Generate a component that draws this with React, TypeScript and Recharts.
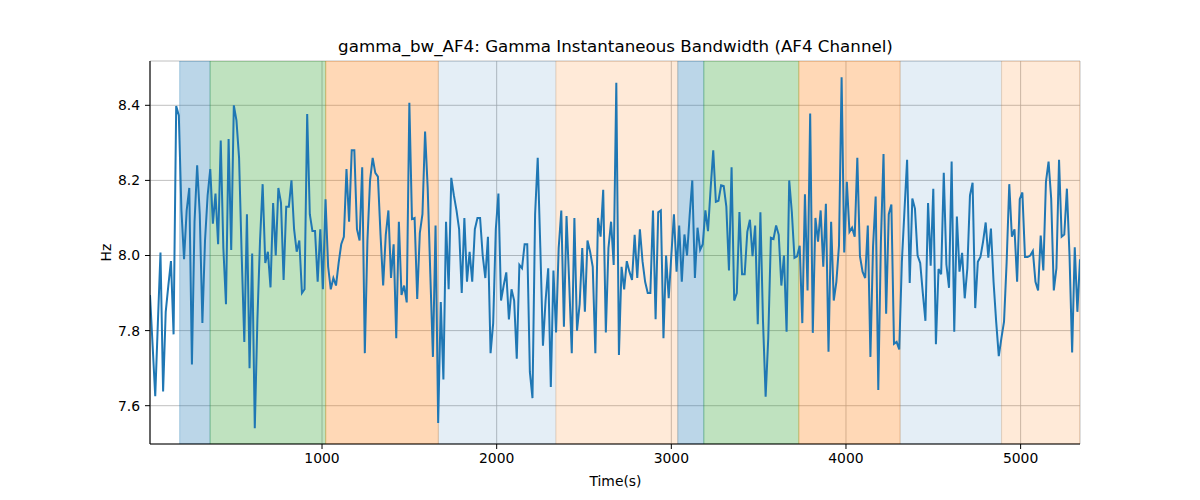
import { ComposedChart, Line, XAxis, YAxis, CartesianGrid, ReferenceArea } from "recharts";

// gamma instantaneous bandwidth, AF4 channel (Hz), one value per 15 s window
const bandwidth = [
  7.895, 7.76, 7.625, 7.82, 8.008, 7.638, 7.85, 7.92, 7.985, 7.79,
  8.398, 8.373, 8.12, 7.99, 8.12, 8.18, 7.71, 8.09, 8.24, 8.11,
  7.82, 8.04, 8.16, 8.23, 8.085, 8.165, 8.03, 8.306, 8.02, 7.87,
  8.31, 8.015, 8.4, 8.36, 8.26, 8.0, 7.77, 8.11, 7.7, 8.005,
  7.54, 7.83, 8.04, 8.19, 7.98, 8.01, 7.915, 8.14, 8.0, 8.18,
  8.14, 7.935, 8.13, 8.13, 8.2, 8.07, 8.01, 8.04, 7.9, 7.91,
  8.377, 8.11, 8.065, 8.065, 7.93, 8.07, 7.91, 8.15, 7.97, 7.91,
  7.94, 7.92, 7.98, 8.03, 8.05, 8.23, 8.09, 8.28, 8.28, 8.07,
  8.04, 8.235, 7.74, 8.04, 8.2, 8.26, 8.22, 8.21, 8.055, 7.92,
  8.055, 8.12, 7.94, 8.03, 7.78, 8.09, 7.895, 7.92, 7.875, 8.407,
  8.097, 8.1, 7.884, 8.06, 8.11, 8.33, 8.18, 7.95, 7.73, 8.08,
  7.554, 7.876, 7.67, 8.09, 7.91, 8.207, 8.16, 8.12, 8.07, 7.9,
  8.1, 7.93, 8.01, 7.93, 8.07, 8.1, 8.1, 8.0, 7.94, 8.05,
  7.74, 7.82, 8.07, 8.165, 7.88, 7.92, 7.955, 7.83, 7.91, 7.88,
  7.725, 7.975, 7.966, 8.03, 8.03, 7.69, 7.62, 8.11, 8.26, 8.02,
  7.76, 7.88, 7.966, 7.65, 7.96, 7.795, 8.02, 8.12, 7.81, 8.105,
  7.93, 7.74, 8.1, 7.8, 7.87, 8.02, 7.85, 8.04, 8.01, 7.97,
  7.74, 8.1, 8.05, 8.175, 7.795, 8.02, 8.09, 7.975, 8.46, 7.735,
  7.97, 7.91, 7.985, 7.957, 7.935, 8.055, 7.94, 8.07, 7.985, 7.93,
  7.9, 7.9, 8.12, 7.83, 8.115, 8.12, 7.78, 8.0, 7.886, 8.0,
  8.11, 7.957, 8.08, 7.93, 8.056, 8.0, 8.107, 8.2, 7.94, 8.074,
  8.015, 8.03, 8.12, 8.065, 8.178, 8.28, 8.143, 8.146, 8.187, 8.185,
  8.13, 7.96, 8.235, 7.88, 7.9, 8.116, 7.95, 7.95, 8.063, 8.095,
  7.998, 8.08, 7.817, 8.115, 7.824, 7.624, 7.78, 8.047, 8.044, 8.08,
  8.055, 7.92, 8.0, 7.797, 8.2, 8.116, 7.994, 7.998, 8.026, 7.82,
  8.163, 7.907, 8.378, 7.794, 8.1, 8.037, 8.12, 7.97, 8.138, 7.744,
  8.09, 7.88, 7.93, 8.026, 8.475, 8.008, 8.196, 8.063, 8.074, 8.05,
  8.26, 7.998, 7.957, 7.94, 8.08, 7.73, 8.024, 8.157, 7.642, 8.037,
  8.27, 7.845, 8.11, 8.136, 7.765, 7.77, 7.75, 7.983, 8.12, 8.255,
  7.927, 8.152, 8.125, 8.0, 7.98, 7.9, 7.826, 8.14, 7.973, 8.178,
  7.764, 7.964, 7.95, 8.22, 7.976, 7.914, 8.25, 7.797, 8.104, 7.957,
  8.007, 7.886, 7.966, 8.16, 8.194, 7.86, 7.983, 7.996, 8.037, 8.088,
  7.994, 8.072, 7.93, 7.824, 7.732, 7.78, 7.824, 7.983, 8.19, 8.05,
  8.07, 7.93, 8.15, 8.168, 7.996, 7.996, 8.0, 8.012, 7.93, 7.907,
  8.053, 7.96, 8.196, 8.25, 8.152, 7.907, 7.966, 8.255, 8.05, 8.056,
  8.178, 8.0, 7.742, 8.022, 7.85, 7.99,
];
const T0 = 15;
const DT = 15;

const xTicks = [1000, 2000, 3000, 4000, 5000];
const yTicks = [7.6, 7.8, 8.0, 8.2, 8.4];

// shaded segments (seconds) and their state
const bandStart = [185, 359, 1021, 1666, 2339, 3037, 3186, 3730, 4310, 4891];
const bandEnd = [359, 1021, 1666, 2339, 3037, 3186, 3730, 4310, 4891, 5340];
const bandKind = ["blue", "green", "orange", "lightblue", "lightorange", "blue", "green", "orange", "lightblue", "lightorange"];

const KIND_STYLE: Record<string, { color: string; alpha: number }> = {
  blue: { color: "#1f77b4", alpha: 0.3 },
  green: { color: "#2ca02c", alpha: 0.3 },
  orange: { color: "#ff7f0e", alpha: 0.3 },
  lightblue: { color: "#1f77b4", alpha: 0.12 },
  lightorange: { color: "#ff7f0e", alpha: 0.16 },
};

const data = bandwidth.map((hz, i) => ({ t: T0 + i * DT, hz }));

const FONT = "'DejaVu Sans', sans-serif";
const tickStyle = { fill: "#000", fontSize: 13.9, fontFamily: FONT };

export default function App() {
  return (
    <div style={{ position: "relative", width: 1200, height: 500, background: "#fff" }}>
      <style>{"body{margin:0}"}</style>
      <ComposedChart
        width={1200}
        height={500}
        data={data}
        margin={{ top: 61, right: 120, bottom: 16, left: 0 }}
      >
        {bandStart.map((s, i) => {
          const st = KIND_STYLE[bandKind[i]];
          return (
            <ReferenceArea
              key={i}
              x1={s}
              x2={bandEnd[i]}
              fill={st.color}
              fillOpacity={st.alpha}
              stroke={st.color}
              strokeOpacity={st.alpha}
              ifOverflow="hidden"
            />
          );
        })}
        <CartesianGrid stroke="#b0b0b0" strokeWidth={0.8} />
        <XAxis
          dataKey="t"
          type="number"
          domain={[15, 5340]}
          allowDataOverflow
          ticks={xTicks}
          height={40}
          tick={tickStyle}
          tickSize={5}
          tickMargin={4}
          stroke="#000"
          tickLine={{ stroke: "#000" }}
          axisLine={{ stroke: "#000", strokeWidth: 1.1 }}
        />
        <XAxis
          xAxisId="top"
          orientation="top"
          dataKey="t"
          type="number"
          domain={[15, 5340]}
          height={0}
          tick={false}
          tickLine={false}
          axisLine={{ stroke: "#000", strokeWidth: 1.1 }}
        />
        <YAxis
          type="number"
          domain={[7.498, 8.518]}
          allowDataOverflow
          ticks={yTicks}
          width={150}
          tick={tickStyle}
          tickFormatter={(v: number) => v.toFixed(1)}
          tickSize={5}
          tickMargin={5}
          stroke="#000"
          tickLine={{ stroke: "#000" }}
          axisLine={{ stroke: "#000", strokeWidth: 1.1 }}
        />
        <YAxis
          yAxisId="right"
          orientation="right"
          type="number"
          domain={[7.498, 8.518]}
          width={0}
          tick={false}
          tickLine={false}
          axisLine={{ stroke: "#000", strokeWidth: 1.1 }}
        />
        <Line
          type="linear"
          dataKey="hz"
          stroke="#1f77b4"
          strokeWidth={2}
          dot={false}
          activeDot={false}
          isAnimationActive={false}
        />
      </ComposedChart>
      <svg
        width={1200}
        height={500}
        style={{ position: "absolute", left: 0, top: 0, pointerEvents: "none" }}
      >
        <text x={615.5} y={52} textAnchor="middle" fontFamily={FONT} fontSize={16.7} fill="#000">
          gamma_bw_AF4: Gamma Instantaneous Bandwidth (AF4 Channel)
        </text>
        <text x={615.5} y={486} textAnchor="middle" fontFamily={FONT} fontSize={13.9} fill="#000">
          Time(s)
        </text>
        <text
          x={0}
          y={0}
          transform="translate(111,252.5) rotate(-90)"
          textAnchor="middle"
          fontFamily={FONT}
          fontSize={13.9}
          fill="#000"
        >
          Hz
        </text>
      </svg>
    </div>
  );
}
